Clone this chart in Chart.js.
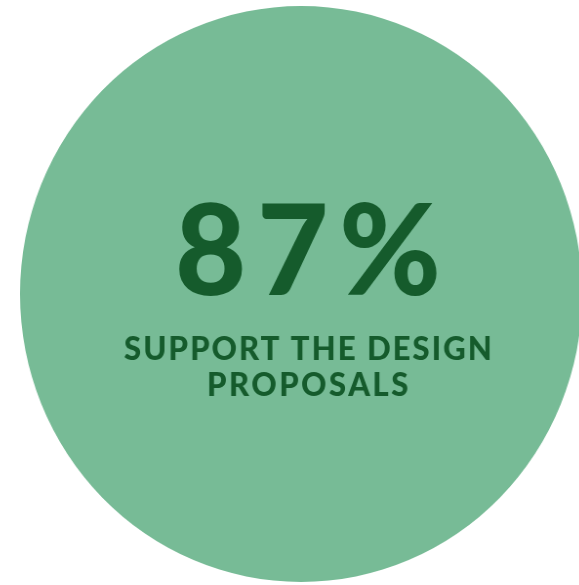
<!doctype html>
<html lang="en">
  <head>
    <meta charset="utf-8">
    <title>87% support</title>
    <style>
      * {
        margin: 0;
        padding: 0;
      }
      body {
        width: 579px;
        height: 585px;
        overflow: hidden;
        background: #ffffff;
        position: relative;
      }
      .chartBox {
        position: absolute;
        left: 20px;
        top: 6px;
        width: 576px;
        height: 576px;
        transform: scaleX(0.976);
        transform-origin: left top;
      }
    </style>
  </head>
  <body>
    <div class="chartBox">
      <canvas id="myChart" width="576" height="576"></canvas>
    </div>
    <script src="https://cdn.jsdelivr.net/npm/chart.js"></script>
    <script>
    // data
    const labels = ['Support the design proposals'];
    const values = [87];
    const headline = values[0] + '%';
    const captionLines = ['SUPPORT THE DESIGN', 'PROPOSALS'];

    const circleColor = '#77bb96';
    const textColor = '#155b2c';

    // centre text
    const centerText = {
      id: 'centerText',
      afterDraw(chart) {
        const ctx = chart.ctx;
        const { left, right, top, bottom } = chart.chartArea;
        const cx = (left + right) / 2 + 7;
        const cy = (top + bottom) / 2;
        ctx.save();
        ctx.fillStyle = textColor;
        ctx.textAlign = 'center';
        ctx.textBaseline = 'alphabetic';
        ctx.font = '900 126px Lato';
        ctx.letterSpacing = '11px';
        ctx.fillText(headline, cx + 5.5, cy + 1);
        ctx.font = '900 32px Lato';
        ctx.letterSpacing = '2px';
        ctx.fillText(captionLines[0], cx + 1, cy + 66);
        ctx.letterSpacing = '2.5px';
        ctx.fillText(captionLines[1], cx + 1, cy + 102);
        ctx.restore();
      }
    };

    const config = {
      type: 'pie',
      data: {
        labels,
        datasets: [{
          data: values,
          backgroundColor: [circleColor],
          borderWidth: 0
        }]
      },
      options: {
        responsive: false,
        animation: false,
        layout: { padding: 0 },
        plugins: {
          legend: { display: false },
          tooltip: { enabled: false }
        }
      },
      plugins: [centerText]
    };

    const myChart = new Chart(document.getElementById('myChart'), config);
    </script>
  </body>
</html>
